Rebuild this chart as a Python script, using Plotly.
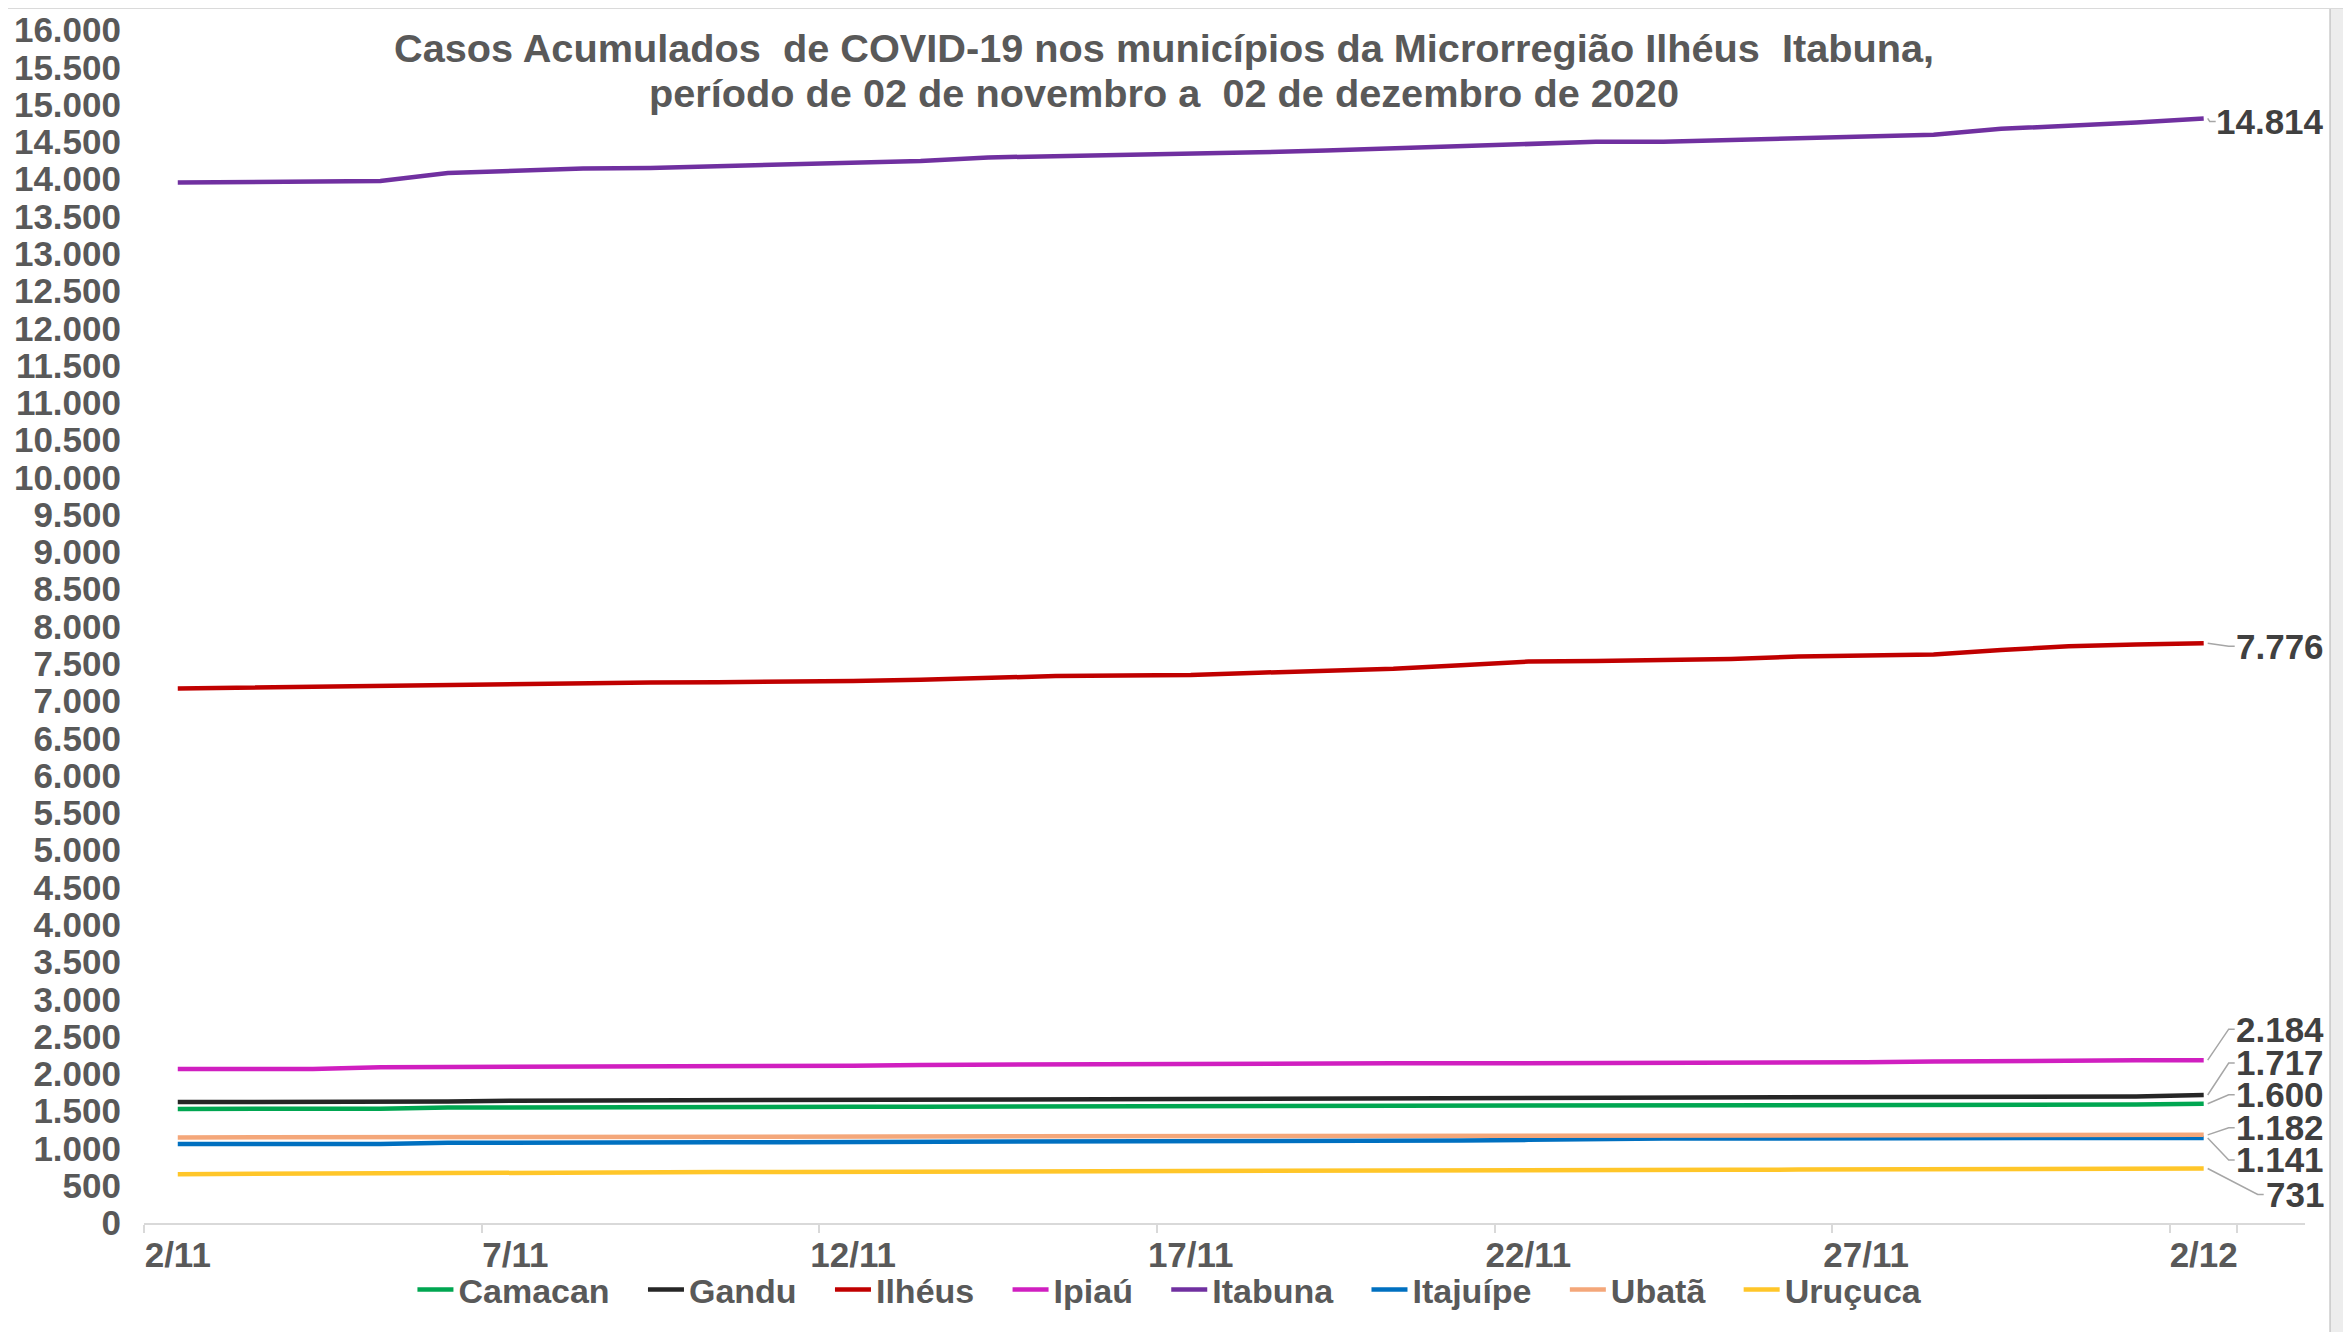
import plotly.graph_objects as go

# ---------------- data ----------------
dates = ["2/11", "3/11", "4/11", "5/11", "6/11", "7/11", "8/11", "9/11", "10/11", "11/11",
         "12/11", "13/11", "14/11", "15/11", "16/11", "17/11", "18/11", "19/11", "20/11", "21/11",
         "22/11", "23/11", "24/11", "25/11", "26/11", "27/11", "28/11", "29/11", "30/11", "1/12", "2/12"]

camacan = [1530, 1530, 1531, 1532, 1548, 1552, 1554, 1555, 1556, 1557, 1558, 1559, 1560, 1561, 1562,
           1563, 1565, 1567, 1569, 1571, 1573, 1575, 1577, 1580, 1582, 1583, 1584, 1585, 1587, 1590, 1600]
gandu = [1622, 1622, 1623, 1624, 1630, 1640, 1642, 1643, 1644, 1648, 1656, 1662, 1664, 1665, 1666,
         1667, 1668, 1669, 1670, 1671, 1672, 1673, 1676, 1680, 1684, 1686, 1688, 1690, 1692, 1698, 1717]
ilheus = [7168, 7180, 7192, 7208, 7222, 7238, 7245, 7248, 7252, 7256, 7270, 7285, 7310, 7336, 7342,
          7350, 7380, 7412, 7432, 7480, 7530, 7538, 7546, 7565, 7598, 7612, 7625, 7685, 7735, 7758, 7776]
ipiau = [2065, 2065, 2066, 2090, 2092, 2094, 2095, 2096, 2100, 2105, 2108, 2120, 2125, 2128, 2130,
         2135, 2138, 2140, 2141, 2142, 2143, 2144, 2145, 2146, 2147, 2155, 2165, 2175, 2180, 2182, 2184]
itabuna = [13955, 13962, 13968, 13975, 14083, 14115, 14143, 14150, 14175, 14195, 14226, 14243, 14291,
           14305, 14320, 14335, 14360, 14385, 14410, 14440, 14470, 14500, 14500, 14520, 14545, 14562,
           14594, 14674, 14710, 14760, 14814]
itajuipe = [1058, 1058, 1059, 1060, 1075, 1080, 1081, 1082, 1083, 1084, 1085, 1086, 1098, 1100, 1101,
            1102, 1103, 1104, 1105, 1106, 1115, 1128, 1132, 1134, 1135, 1136, 1137, 1138, 1139, 1140, 1141]
ubata = [1148, 1149, 1150, 1151, 1152, 1153, 1154, 1155, 1157, 1160, 1162, 1163, 1164, 1165, 1166,
         1166, 1167, 1168, 1169, 1170, 1171, 1172, 1173, 1174, 1175, 1176, 1177, 1178, 1179, 1180, 1182]
urucuca = [655, 660, 666, 672, 675, 677, 679, 681, 683, 684, 685, 687, 689, 691, 693, 695, 697, 699,
           701, 703, 705, 708, 711, 714, 716, 718, 720, 723, 726, 729, 731]

series_names = ["Camacan", "Gandu", "Ilhéus", "Ipiaú", "Itabuna", "Itajuípe", "Ubatã", "Uruçuca"]
series_values = [camacan, gandu, ilheus, ipiau, itabuna, itajuipe, ubata, urucuca]
series_colors = ["#00A651", "#262626", "#C00000", "#D01FC0", "#7030A0", "#0070C0", "#F4A77A", "#FFC629"]

tick_labels = ["2/11", "7/11", "12/11", "17/11", "22/11", "27/11", "2/12"]

title_lines = ["Casos Acumulados  de COVID-19 nos municípios da Microrregião Ilhéus  Itabuna,",
               "período de 02 de novembro a  02 de dezembro de 2020"]

# label layout (pixel offsets of end labels from their points) -- styling only
label_yshift = {"Camacan": 9, "Gandu": 32, "Ilhéus": -3, "Ipiaú": 31, "Itabuna": -3,
                "Itajuípe": -22, "Ubatã": 7, "Uruçuca": -26}

FONT = "Liberation Sans, Arial, sans-serif"
GRAY = "#595959"
NBSP = "\u00a0"
XSHIFT = 122

fig = go.Figure()
for name, vals, col in zip(series_names, series_values, series_colors):
    fig.add_trace(go.Scatter(x=dates, y=vals, name=name + NBSP * 3, mode="lines",
                             line=dict(color=col, width=4.5),
                             hovertemplate=name + ": %{y}<extra></extra>"))

# end labels with leader lines
last = dates[-1]
for name, vals in zip(series_names, series_values):
    v = vals[-1]
    txt = f"{v:,}".replace(",", ".")
    dy = label_yshift[name]
    fig.add_annotation(x=last, y=v, xref="x", yref="y", text=txt, showarrow=False,
                       xanchor="right", yanchor="middle", xshift=XSHIFT, yshift=dy,
                       font=dict(family=FONT, size=35, color="#404040", weight="bold"))
    ndig = sum(c.isdigit() for c in txt)
    textw = ndig * 19.5 + txt.count(".") * 9.7
    left = XSHIFT - textw
    fig.add_shape(type="path", xref="x", yref="y", xsizemode="pixel", ysizemode="pixel",
                  xanchor=last, yanchor=v,
                  path=f"M 4,0 L {left-9:.0f},{dy} L {left-3:.0f},{dy}",
                  line=dict(color="#A6A6A6", width=1.5))

# title as two text lines
for line, yy in zip(title_lines, [0.985, 0.947]):
    fig.add_annotation(text=line, xref="paper", yref="paper", x=0.472, y=yy,
                       xanchor="center", yanchor="middle", showarrow=False,
                       font=dict(family=FONT, size=39.7, color=GRAY, weight="bold"))

# frame decorations (screen-capture border)
fig.add_shape(type="rect", xref="paper", yref="paper", x0=1.0116, x1=1.03, y0=-0.12, y1=1.03,
              fillcolor="#EDEDED", line=dict(color="#C8C8C8", width=1.5), layer="below")
fig.add_shape(type="rect", xref="paper", yref="paper", x0=-0.07, x1=1.03, y0=1.018, y1=1.03,
              fillcolor="#EDEDED", line=dict(color="#DADADA", width=1), layer="below")

fig.update_layout(
    width=2335, height=1324,
    margin=dict(l=136, r=38, t=22, b=109),
    paper_bgcolor="white", plot_bgcolor="white",
    separators=",.",
    font=dict(family=FONT, size=35, color=GRAY, weight="bold"),
    showlegend=True,
    legend=dict(orientation="h", x=0.481, xanchor="center", y=-0.056, yanchor="middle",
                font=dict(family=FONT, size=34, color=GRAY, weight="bold"),
                bgcolor="rgba(0,0,0,0)", itemwidth=36, tracegroupgap=0),
    xaxis=dict(type="category", range=[-0.5, 31.5], tickvals=tick_labels, ticktext=tick_labels,
               tickson="boundaries", ticks="outside", ticklen=8, tickcolor="#D9D9D9", tickwidth=1.5,
               tickangle=0, automargin=False,
               showline=True, linecolor="#D9D9D9", linewidth=2, showgrid=False, zeroline=False,
               tickfont=dict(family=FONT, size=35, color=GRAY, weight="bold")),
    yaxis=dict(range=[0, 16000], dtick=500, tick0=0, tickformat=",d", showgrid=False,
               zeroline=False, showline=False, ticks="", ticklabelstandoff=22, automargin=False,
               tickfont=dict(family=FONT, size=35, color=GRAY, weight="bold")),
)

fig.write_html("out.html")
